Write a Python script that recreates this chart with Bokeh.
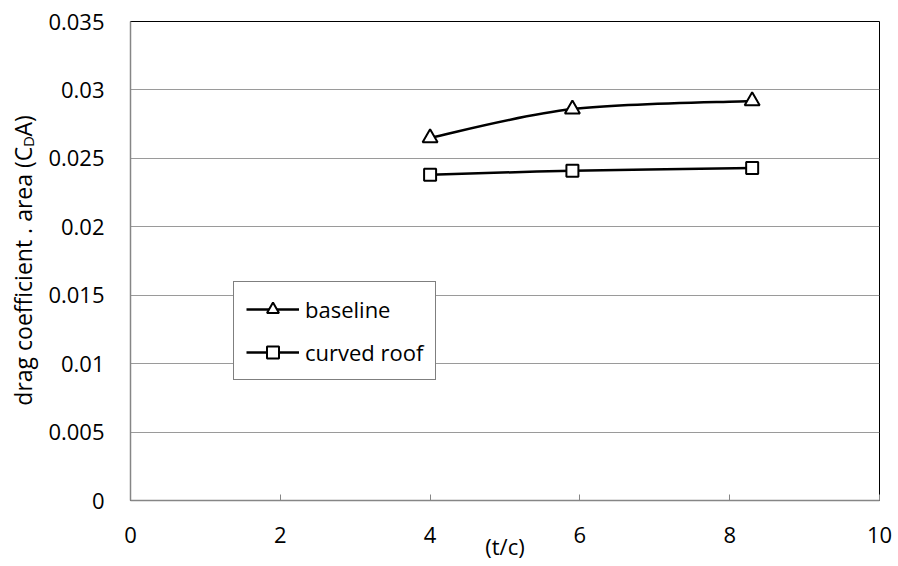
import math
from bokeh.plotting import figure
from bokeh.layouts import row
from bokeh.models import Range1d, FixedTicker, Legend, LegendItem
from bokeh.core.properties import value
from bokeh.embed import file_html
from bokeh.resources import INLINE

# ---- data ----
x_tc = [4.0, 5.9, 8.3]
baseline = [0.0265, 0.0286, 0.0292]
curved_roof = [0.0238, 0.0241, 0.0243]

x_ticks = [0, 2, 4, 6, 8, 10]
x_tick_labels = ["0", "2", "4", "6", "8", "10"]
y_ticks = [0, 0.005, 0.01, 0.015, 0.02, 0.025, 0.03, 0.035]
y_tick_labels = ["0", "0.005", "0.01", "0.015", "0.02", "0.025", "0.03", "0.035"]

series_names = ["baseline", "curved roof"]
x_title = "(t/c)"
y_title_parts = ["drag coefficient . area (C", "D", "A)"]
FONT = "Open Sans"

LEFT_W = 44

p = figure(width=898 - LEFT_W, height=566, output_backend="svg", toolbar_location=None,
           x_range=Range1d(0, 10), y_range=Range1d(0, 0.035),
           min_border_left=130 - LEFT_W, min_border_right=19, min_border_top=21,
           min_border_bottom=66)
p.background_fill_color = "white"
p.border_fill_color = "white"
p.outline_line_color = "black"
p.outline_line_width = 1

# axes
p.xaxis.ticker = FixedTicker(ticks=x_ticks)
p.xaxis.major_label_overrides = dict(zip(x_ticks, x_tick_labels))
p.yaxis.ticker = FixedTicker(ticks=y_ticks)
p.yaxis.major_label_overrides = dict(zip(y_ticks, y_tick_labels))
for ax in (p.xaxis, p.yaxis):
    ax.axis_line_color = "#868686"
    ax.axis_line_width = 1.5
    ax.major_tick_line_color = "#868686"
    ax.minor_tick_line_color = None
    ax.major_label_text_font = FONT
    ax.major_label_text_font_size = "22px"
    ax.major_label_text_color = "black"
p.xaxis.major_tick_in = 6
p.xaxis.major_tick_out = 0
p.xaxis.major_label_standoff = 26
p.yaxis.major_tick_in = 0
p.yaxis.major_tick_out = 0
p.yaxis.major_label_standoff = 26

p.xaxis.axis_label = x_title
p.xaxis.axis_label_text_font = FONT
p.xaxis.axis_label_text_font_size = "22px"
p.xaxis.axis_label_text_font_style = "normal"
p.xaxis.axis_label_text_color = "black"
p.xaxis.axis_label_standoff = -15

p.xgrid.visible = False
p.ygrid.grid_line_color = "#9a9a9a"
p.ygrid.grid_line_width = 1


def smooth_segments(xs, ys):
    n = len(xs)
    seg = dict(x0=[], y0=[], x1=[], y1=[], cx0=[], cy0=[], cx1=[], cy1=[])
    for i in range(n - 1):
        a = i - 1 if i > 0 else i
        b = i + 2 if i + 2 < n else i + 1
        seg["x0"].append(xs[i]); seg["y0"].append(ys[i])
        seg["x1"].append(xs[i + 1]); seg["y1"].append(ys[i + 1])
        seg["cx0"].append(xs[i] + (xs[i + 1] - xs[a]) / 6.0)
        seg["cy0"].append(ys[i] + (ys[i + 1] - ys[a]) / 6.0)
        seg["cx1"].append(xs[i + 1] - (xs[b] - xs[i]) / 6.0)
        seg["cy1"].append(ys[i + 1] - (ys[b] - ys[i]) / 6.0)
    return seg


items = []
for name, ys, marker, msize in [(series_names[0], baseline, "triangle", 15),
                                (series_names[1], curved_roof, "square", 12)]:
    s = smooth_segments(x_tc, ys)
    p.bezier(line_color="black", line_width=2.5, **s)
    # a one-point line draws nothing on the plot but supplies the legend's line
    leg_line = p.line(x=x_tc[:1], y=ys[:1], line_color="black", line_width=2.5)
    sc = p.scatter(x_tc, ys, marker=marker, size=msize, fill_color="white",
                   line_color="black", line_width=2)
    items.append(LegendItem(label=name, renderers=[leg_line, sc]))

legend = Legend(items=items, location=(103, 120), orientation="vertical",
                glyph_width=53, glyph_height=30, label_height=30, label_standoff=6,
                spacing=13, padding=12, margin=0,
                border_line_color="black", border_line_width=1,
                background_fill_color="white", background_fill_alpha=1.0,
                label_text_font=FONT, label_text_font_size="22px", label_text_color="black")
p.add_layout(legend)

# ---- left strip holding the rotated y-axis title (with subscript D) ----
pl = figure(width=LEFT_W, height=566, output_backend="svg", toolbar_location=None,
            x_range=Range1d(0, LEFT_W), y_range=Range1d(566, 0),
            x_axis_location=None, y_axis_location=None,
            min_border_left=0, min_border_right=0, min_border_top=0, min_border_bottom=0)
pl.grid.visible = False
pl.outline_line_color = None
pl.background_fill_color = "white"
pl.border_fill_color = "white"

cx = 22
d_y = 142
# text reads bottom-to-top; first part ends just below the subscript
pl.text(x=[cx], y=[d_y + 6], text=[y_title_parts[0]], angle=math.pi / 2,
        text_font=value(FONT), text_font_size=value("23px"), text_align="right",
        text_baseline="middle", text_color="black")
pl.text(x=[cx + 5], y=[d_y], text=[y_title_parts[1]], angle=math.pi / 2,
        text_font=value(FONT), text_font_size=value("15px"), text_align="center",
        text_baseline="middle", text_color="black")
pl.text(x=[cx], y=[d_y - 6], text=[y_title_parts[2]], angle=math.pi / 2,
        text_font=value(FONT), text_font_size=value("23px"), text_align="left",
        text_baseline="middle", text_color="black")

layout = row(pl, p, spacing=0)
open("out.html", "w").write(file_html(layout, INLINE))
